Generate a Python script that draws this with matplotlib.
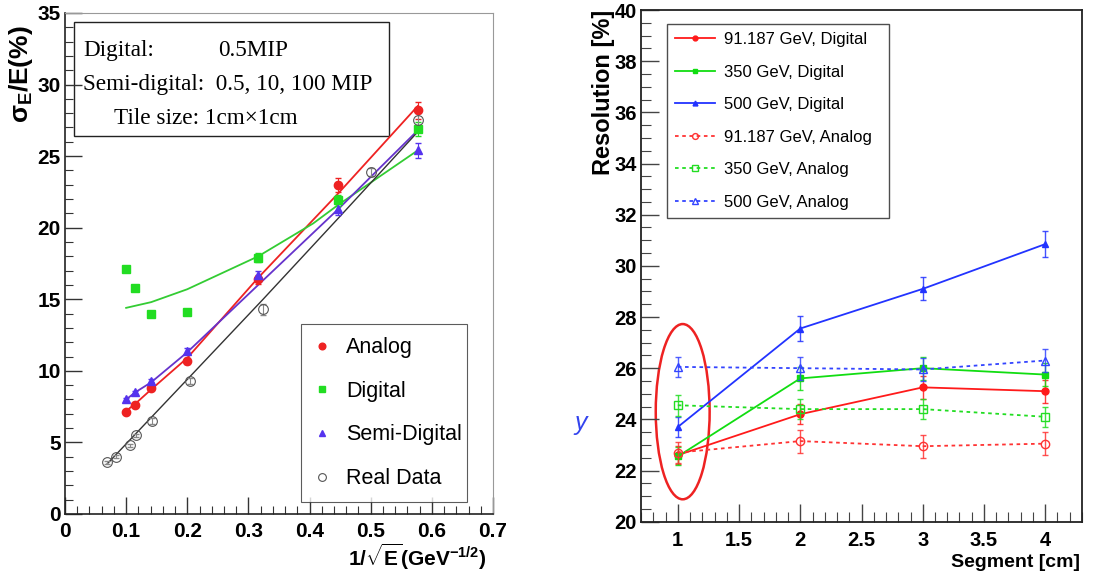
import numpy as np
import matplotlib.pyplot as plt
from matplotlib.patches import Rectangle, Ellipse
from matplotlib.ticker import MultipleLocator

plt.rcParams['font.family'] = ['Liberation Sans', 'DejaVu Sans']
plt.rcParams['mathtext.fontset'] = 'custom'
plt.rcParams['mathtext.rm'] = 'Liberation Sans:bold'
plt.rcParams['mathtext.it'] = 'Liberation Sans:bold'
plt.rcParams['mathtext.bf'] = 'Liberation Sans:bold'

# ---- left panel data: resolution vs 1/sqrt(E) ----
x_sim = [0.1, 0.115, 0.141, 0.2, 0.316, 0.447, 0.577]
analog = [7.1, 7.6, 8.8, 10.7, 16.4, 23.0, 28.2]
analog_err = [0.1, 0.1, 0.1, 0.2, 0.3, 0.5, 0.6]
digital = [17.1, 15.8, 14.0, 14.1, 17.9, 21.9, 26.9]
digital_err = [0.1, 0.1, 0.1, 0.2, 0.3, 0.4, 0.5]
semi = [8.0, 8.5, 9.3, 11.4, 16.7, 21.3, 25.4]
semi_err = [0.1, 0.1, 0.1, 0.2, 0.3, 0.4, 0.5]
x_real = [0.069, 0.083, 0.107, 0.116, 0.143, 0.204, 0.324, 0.50, 0.578]
real = [3.6, 4.0, 4.8, 5.5, 6.5, 9.3, 14.3, 23.9, 27.5]
real_err = [0.1, 0.1, 0.1, 0.1, 0.2, 0.2, 0.4, 0.3, 0.5]

# fitted curves
fit_red_x = [0.1, 0.115, 0.141, 0.2, 0.316, 0.447, 0.577]
fit_red_y = [7.2, 7.7, 8.7, 10.9, 16.5, 22.4, 28.5]
fit_green_x = [0.1, 0.141, 0.2, 0.316, 0.406, 0.447, 0.577]
fit_green_y = [14.4, 14.8, 15.7, 18.0, 20.3, 21.6, 25.4]
fit_semi_x = [0.1, 0.115, 0.141, 0.2, 0.316, 0.447, 0.577]
fit_semi_y = [8.0, 8.5, 9.2, 11.3, 16.0, 21.3, 26.8]
fit_real_x = [0.069, 0.2, 0.324, 0.45, 0.577]
fit_real_y = [3.5, 9.4, 15.0, 20.8, 26.7]

# ---- right panel data: resolution vs segment size ----
segment = [1, 2, 3, 4]
res_labels = ['91.187 GeV, Digital', '350 GeV, Digital', '500 GeV, Digital',
              '91.187 GeV, Analog', '350 GeV, Analog', '500 GeV, Analog']
res_values = [[22.6, 24.2, 25.25, 25.1],
              [22.55, 25.6, 26.0, 25.75],
              [23.7, 27.55, 29.1, 30.85],
              [22.7, 23.15, 22.95, 23.05],
              [24.55, 24.4, 24.4, 24.1],
              [26.05, 26.0, 25.95, 26.3]]
res_errors = [[0.35, 0.4, 0.45, 0.45],
              [0.35, 0.45, 0.45, 0.45],
              [0.4, 0.5, 0.45, 0.5],
              [0.4, 0.45, 0.45, 0.45],
              [0.4, 0.4, 0.4, 0.4],
              [0.4, 0.45, 0.45, 0.45]]

fig = plt.figure(figsize=(10.96, 5.79), dpi=100)

# ================= left panel =================
ax = fig.add_axes([0.0593, 0.1123, 0.3905, 0.8653])
ax.plot(fit_red_x, fit_red_y, color='#ee2222', lw=1.3)
ax.plot(fit_green_x, fit_green_y, color='#33cc33', lw=1.3)
ax.plot(fit_semi_x, fit_semi_y, color='#6633cc', lw=1.3)
ax.plot(fit_real_x, fit_real_y, color='#333333', lw=1.0)

ax.errorbar(x_sim, analog, yerr=analog_err, fmt='none', ecolor='#ee2222',
            elinewidth=0.8, capsize=2)
ax.errorbar(x_sim, digital, yerr=digital_err, fmt='none', ecolor='#22dd22',
            elinewidth=0.8, capsize=2)
ax.errorbar(x_sim, semi, yerr=semi_err, fmt='none', ecolor='#5533ee',
            elinewidth=0.8, capsize=2)
ax.errorbar(x_real, real, yerr=real_err, fmt='none', ecolor='#888888',
            elinewidth=0.8, capsize=2)
ax.plot(x_sim, analog, 'o', color='#ee2222', ms=6, label='Analog')
ax.plot(x_sim, digital, 's', color='#22dd22', ms=6, label='Digital')
ax.plot(x_sim, semi, '^', color='#5533ee', ms=6, label='Semi-Digital')
ax.plot(x_real, real, 'o', mfc='none', mec='#555555', ms=7, mew=0.8, label='Real Data')

ax.set_xlim(0, 0.7)
ax.set_ylim(0, 35)
ax.xaxis.set_major_locator(MultipleLocator(0.1))
ax.xaxis.set_minor_locator(MultipleLocator(0.02))
ax.yaxis.set_major_locator(MultipleLocator(5))
ax.yaxis.set_minor_locator(MultipleLocator(1))
ax.xaxis.set_major_formatter(plt.FuncFormatter(lambda v, p: '0' if v == 0 else '%g' % v))
ax.tick_params(which='both', direction='in', top=False, right=False, color='#333333')
ax.tick_params(which='major', length=12, width=1)
ax.tick_params(which='minor', length=6, width=0.8)
ax.tick_params(axis='y', pad=3)
ax.tick_params(axis='x', pad=6)
for lab in ax.get_xticklabels() + ax.get_yticklabels():
    lab.set_fontweight('bold')
    lab.set_fontsize(15)
for s in ['top', 'right']:
    ax.spines[s].set_color('#999999')
for s in ['left', 'bottom']:
    ax.spines[s].set_color('#222222')
    ax.spines[s].set_linewidth(1.2)

ax.set_ylabel(r'$\sigma_{E}$/E(%)', fontsize=19, fontweight='bold', loc='top')
ax.yaxis.set_label_coords(-0.07, 0.975)
ax.set_xlabel(r'1/$\sqrt{E}$(GeV$^{-1/2}$)', fontsize=15, fontweight='bold', loc='right')
ax.xaxis.set_label_coords(0.985, -0.056)

leg = ax.legend(loc='lower left', bbox_to_anchor=(0.551, 0.024, 0.388, 0.352),
                mode='expand', fontsize=15.5, frameon=True, fancybox=False,
                edgecolor='#333333', handlelength=0.8, handletextpad=0.7,
                labelspacing=1.05, borderpad=0.6, borderaxespad=0,
                markerscale=0.8)
leg.get_frame().set_linewidth(0.8)

ax.add_patch(Rectangle((0.021, 0.754), 0.736, 0.228, transform=ax.transAxes,
                       fill=False, edgecolor='#222222', lw=1.0))
serif = ['Liberation Serif', 'DejaVu Serif']
ax.text(0.042, 0.914, 'Digital:', transform=ax.transAxes, family=serif, fontsize=16.7)
ax.text(0.357, 0.914, '0.5MIP', transform=ax.transAxes, family=serif, fontsize=16.7)
ax.text(0.042, 0.846, 'Semi-digital:  0.5, 10, 100 MIP', transform=ax.transAxes,
        family=serif, fontsize=16.7)
ax.text(0.1145, 0.778, 'Tile size: 1cm\u00d71cm', transform=ax.transAxes,
        family=serif, fontsize=16.7)

# ================= right panel =================
bx = fig.add_axes([0.5849, 0.0990, 0.4023, 0.8837])
colors = ['#ff1a1a', '#11dd11', '#2233ff', '#ff3333', '#22dd22', '#3344ff']
markers = ['o', 's', '^', 'o', 's', '^']
for i in range(6):
    analog_set = i >= 3
    ls = (0, (2, 2)) if analog_set else '-'
    bx.errorbar(segment, res_values[i], yerr=res_errors[i], fmt='none',
                ecolor=colors[i], elinewidth=1.0, capsize=2.5,
                alpha=0.85, ls=ls)
    bx.plot(segment, res_values[i], color=colors[i], ls=ls, lw=1.3,
            marker=markers[i], ms=5 if not analog_set else 6,
            mfc='none' if analog_set else colors[i], mec=colors[i],
            label=res_labels[i])

bx.add_patch(Ellipse((1.04, 24.3), 0.44, 6.85, fill=False, edgecolor='#ee2222', lw=1.8))

bx.set_xlim(0.7, 4.3)
bx.set_ylim(20, 40)
bx.xaxis.set_major_locator(MultipleLocator(0.5))
bx.xaxis.set_minor_locator(MultipleLocator(0.1))
bx.yaxis.set_major_locator(MultipleLocator(2))
bx.yaxis.set_minor_locator(MultipleLocator(0.5))
bx.xaxis.set_major_formatter(plt.FuncFormatter(lambda v, p: '%g' % v))
bx.tick_params(which='both', direction='in', top=False, right=False, color='#444444')
bx.tick_params(which='major', length=13, width=1)
bx.tick_params(which='minor', length=7, width=0.8)
bx.tick_params(axis='y', pad=3)
bx.tick_params(axis='x', pad=7)
for lab in bx.get_xticklabels() + bx.get_yticklabels():
    lab.set_fontweight('bold')
    lab.set_fontsize(14.5)
for s in bx.spines.values():
    s.set_color('#222222')
    s.set_linewidth(1.3)

bx.set_ylabel('Resolution [%]', fontsize=17, fontweight='bold', loc='top')
bx.yaxis.set_label_coords(-0.06, 1.0)
bx.set_xlabel('Segment [cm]', fontsize=14, fontweight='bold', loc='right')
bx.xaxis.set_label_coords(0.995, -0.064)

leg2 = bx.legend(loc='upper left', bbox_to_anchor=(0.059, 0.597, 0.503, 0.376),
                 mode='expand', fontsize=12, frameon=True, fancybox=False,
                 edgecolor='#222222', handlelength=2.4, handletextpad=0.5,
                 labelspacing=1.05, borderpad=0.5, borderaxespad=0,
                 markerscale=0.7)
leg2.get_frame().set_linewidth(1.0)

# stray fragment at the edge of the right picture
fig.text(0.524, 0.258, 'y', color='#3344ee', fontsize=18, style='italic')

fig.savefig('out.png', dpi=100)
